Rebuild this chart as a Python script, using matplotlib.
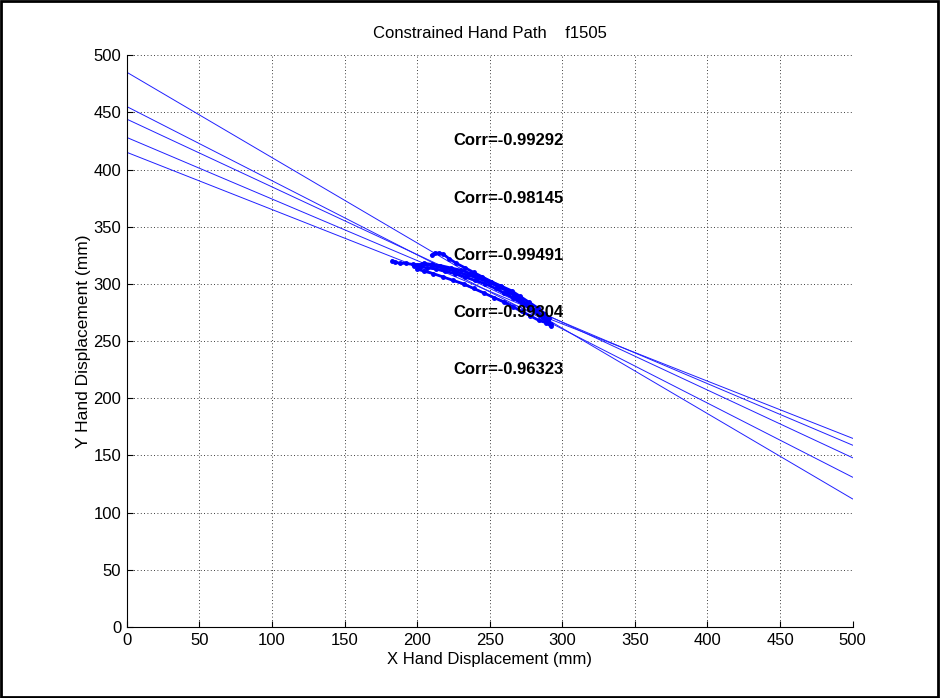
import numpy as np
import matplotlib
matplotlib.use('Agg')
import matplotlib.pyplot as plt
from matplotlib.patches import Rectangle

plt.rcParams['font.family'] = ['Liberation Sans', 'DejaVu Sans']

# hand path samples for each trial (mm)
trial_x = [
    [183, 185, 188, 192, 197, 203, 210, 218, 226, 234, 242, 250, 257, 263, 269, 275, 281, 286, 290, 292],
    [210, 212, 215, 218, 222, 227, 233, 239, 245, 251, 257, 262, 267, 272, 277, 282, 287, 290],
    [198, 202, 207, 213, 219, 226, 233, 240, 247, 254, 260, 266, 272, 278, 284, 289],
    [200, 205, 211, 218, 225, 232, 239, 246, 253, 260, 266, 272, 278, 284, 289, 292],
    [205, 210, 216, 223, 230, 237, 244, 251, 258, 265, 271, 277, 283, 288, 291],
]
trial_y = [
    [320, 319, 318, 318, 317, 317, 316, 314, 311, 308, 305, 301, 297, 293, 288, 283, 277, 272, 268, 265],
    [325, 327, 327, 326, 322, 318, 314, 310, 306, 302, 298, 294, 290, 285, 280, 275, 270, 267],
    [316, 315, 314, 313, 311, 309, 306, 303, 300, 296, 292, 288, 283, 278, 273, 269],
    [313, 311, 309, 306, 303, 300, 296, 292, 288, 284, 280, 276, 272, 268, 266, 263],
    [318, 317, 316, 314, 312, 309, 306, 302, 298, 294, 289, 284, 279, 274, 270],
]

# regression lines: y at x=0 and at x=500
fit_y0 = [485, 455, 444, 428, 415]
fit_y500 = [112, 131, 148, 159, 165]
fit_x = [0, 500]

corr_vals = [-0.99292, -0.98145, -0.99491, -0.99304, -0.96323]
corr_y = [425, 375, 325, 275, 225]

fig = plt.figure(figsize=(9.4, 6.98), dpi=100)
ax = fig.add_axes([0.135, 0.1017, 0.772, 0.8193])

for y0, y1 in zip(fit_y0, fit_y500):
    ax.plot(fit_x, [y0, y1], color='#2020ff', lw=0.7)

for tx, ty in zip(trial_x, trial_y):
    ax.plot(tx, ty, '.-', color='#0000ff', ms=5, lw=2)

for c, yy in zip(corr_vals, corr_y):
    ax.text(225, yy, 'Corr=%.5f' % c, fontsize=12, fontweight='bold',
            va='center', ha='left')

ax.set_xlim(0, 500)
ax.set_ylim(0, 500)
ax.set_xticks(np.arange(0, 501, 50))
ax.set_yticks(np.arange(0, 501, 50))
ax.grid(True, linestyle=(0, (1, 3)), color='black', lw=0.6)
ax.spines['top'].set_visible(False)
ax.spines['right'].set_visible(False)
ax.tick_params(direction='in', labelsize=12, pad=4, length=4)
ax.set_xlabel('X Hand Displacement (mm)', fontsize=12, labelpad=3)
ax.set_ylabel('Y Hand Displacement (mm)', fontsize=12.5, labelpad=2)
ax.set_title('Constrained Hand Path    f1505', fontsize=12, pad=12)

fig.patches.append(Rectangle((0.001, 0.001), 0.997, 0.997, transform=fig.transFigure,
                             fill=False, edgecolor='black', lw=2))

fig.savefig('out.png', dpi=100)
